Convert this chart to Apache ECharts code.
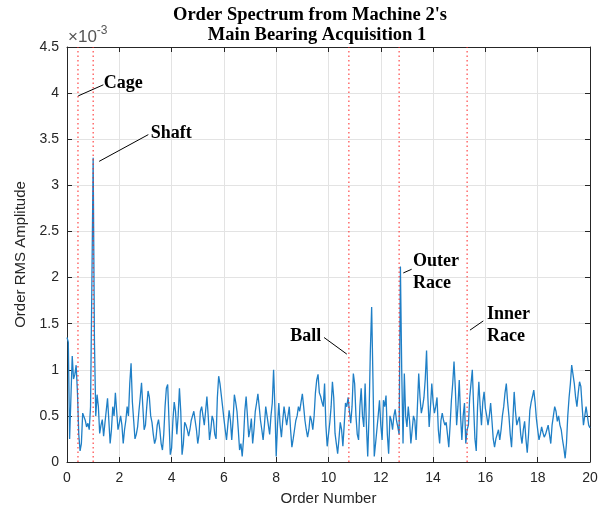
<!DOCTYPE html>
<html>
<head>
<meta charset="utf-8">
<script src="https://cdn.jsdelivr.net/npm/echarts@6/dist/echarts.min.js"></script>
<style>
html,body{margin:0;padding:0;background:#fff;}
#chart{width:605px;height:514px;}
</style>
</head>
<body>
<div id="chart"></div>
<script>
// Order RMS amplitude (units of 1e-3), sampled every 0.05 order from 0 to 20
const orderStep = 0.05;
const amplitude = [
1.35,1.3,0.25,0.7,1.15,0.9,0.95,1.05,0.75,0.3,0.12,0.2,0.53,0.55,0.45,0.38,0.42,0.35,0.6,1.9,
3.3,1.3,0.5,0.73,0.6,0.31,0.4,0.46,0.28,0.42,0.4,0.69,0.45,0.2,0.35,0.6,0.5,0.75,0.55,0.35,
0.42,0.5,0.4,0.2,0.35,0.45,0.6,0.5,0.85,1.07,0.65,0.45,0.25,0.3,0.38,0.55,0.7,0.86,0.6,0.35,
0.4,0.6,0.77,0.7,0.5,0.43,0.3,0.2,0.25,0.4,0.46,0.35,0.2,0.13,0.3,0.6,0.8,0.84,0.45,0.08,
0.15,0.45,0.65,0.55,0.3,0.5,0.8,0.55,0.08,0.2,0.43,0.4,0.35,0.28,0.35,0.45,0.5,0.55,0.56,0.35,
0.2,0.3,0.55,0.6,0.5,0.4,0.55,0.71,0.5,0.24,0.35,0.5,0.45,0.3,0.25,0.7,0.93,0.85,0.85,0.6,
0.47,0.35,0.24,0.4,0.56,0.45,0.24,0.45,0.73,0.65,0.55,0.35,0.13,0.2,0.06,0.25,0.55,0.71,0.5,0.27,
0.35,0.47,0.2,0.35,0.55,0.64,0.74,0.6,0.45,0.35,0.24,0.4,0.6,0.5,0.4,0.3,0.5,0.64,1.0,0.6,
0.06,0.4,0.64,0.4,0.27,0.45,0.6,0.5,0.4,0.5,0.6,0.35,0.16,0.25,0.35,0.45,0.5,0.6,0.55,0.65,
0.74,0.6,0.45,0.35,0.27,0.35,0.5,0.45,0.35,0.5,0.75,0.89,0.95,0.75,0.71,0.65,0.6,0.85,0.4,0.17,
0.3,0.43,0.6,0.87,0.7,0.31,0.2,0.09,0.25,0.43,0.35,0.17,0.4,0.64,0.6,0.7,0.55,0.42,0.6,0.96,
0.85,0.5,0.3,0.24,0.6,0.8,0.5,0.38,0.85,0.4,0.06,0.5,1.2,1.68,0.9,0.06,0.2,0.35,0.5,0.67,
0.4,0.24,0.67,0.6,0.72,0.3,0.09,0.5,0.45,0.35,0.5,0.57,0.45,0.38,0.3,2.12,1.0,0.2,0.96,0.5,
0.38,0.6,0.45,0.2,0.35,0.5,0.45,0.24,0.6,0.96,0.7,0.53,0.6,0.7,0.9,1.21,0.7,0.38,0.6,0.85,
0.65,0.53,0.6,0.7,0.35,0.2,0.45,0.53,0.45,0.4,0.43,0.3,0.16,0.4,0.67,0.85,1.09,0.8,0.4,0.6,
0.89,0.5,0.24,0.5,0.64,0.2,0.35,0.4,0.7,0.85,1.0,0.6,0.25,0.12,0.6,0.87,0.6,0.4,0.65,0.76,
0.58,0.5,0.4,0.5,0.64,0.45,0.25,0.16,0.25,0.27,0.35,0.24,0.35,0.5,0.6,0.75,0.85,0.65,0.5,0.3,
0.16,0.45,0.76,0.55,0.4,0.45,0.49,0.3,0.2,0.35,0.44,0.25,0.1,0.3,0.56,0.65,0.71,0.78,0.65,0.47,
0.35,0.24,0.3,0.38,0.32,0.27,0.3,0.35,0.4,0.3,0.2,0.4,0.5,0.6,0.55,0.44,0.5,0.4,0.35,0.24,
0.15,0.04,0.2,0.5,0.7,0.85,1.05,0.95,0.85,0.7,0.6,0.75,0.87,0.82,0.6,0.4,0.5,0.6,0.5,0.4,
0.37
];
const orders = amplitude.map((_, i) => +(i * orderStep).toFixed(2));

// Bearing fault / shaft orders (red dotted lines)
const faultNames = ['Cage', 'Shaft', 'Ball', 'Outer Race', 'Inner Race'];
const faultOrders = [0.42, 1.0, 10.78, 12.7, 15.3];

// Annotation text positions and leader lines (data coords: order, amplitude e-3)
const annoText = ['Cage', 'Shaft', 'Ball', 'Outer\nRace', 'Inner\nRace'];
const annoTextPos = [[1.41, 4.11], [3.2, 3.56], [9.72, 1.36], [13.23, 2.06], [16.06, 1.48]];
const annoAlign = ['left', 'left', 'right', 'left', 'left'];
const annoLineFrom = [[0.43, 3.97], [1.23, 3.26], [10.7, 1.17], [12.86, 2.05], [15.41, 1.43]];
const annoLineTo = [[1.39, 4.09], [3.11, 3.55], [9.83, 1.35], [13.18, 2.09], [15.92, 1.53]];

const titleLines = ["Order Spectrum from Machine 2's", 'Main Bearing Acquisition 1'];
const xTicks = [0, 20, 2];
const yTicks = [0, 4.5, 0.5];

const chart = echarts.init(document.getElementById('chart'), null, {renderer: 'canvas'});
const axisColor = '#262626';
const gridLine = {show: true, lineStyle: {color: '#e3e3e3', width: 1}};

const faultSeries = faultOrders.map((v, i) => ({
  type: 'line', name: faultNames[i],
  data: [[v, yTicks[0]], [v, yTicks[1]]],
  showSymbol: false, symbol: 'none', silent: true,
  lineStyle: {color: '#ff2020', type: [1.5, 3], width: 1},
  z: 4
}));

const option = {
  backgroundColor: '#ffffff',
  animation: false,
  grid: {left: 67, right: 15, top: 47, bottom: 52, containLabel: false},
  xAxis: [{
    type: 'value', min: xTicks[0], max: xTicks[1], interval: xTicks[2],
    name: 'Order Number', nameLocation: 'middle', nameGap: 29,
    nameTextStyle: {fontFamily: 'Liberation Sans', fontSize: 15, color: axisColor},
    axisLine: {show: true, onZero: false, lineStyle: {color: axisColor, width: 1}},
    axisTick: {show: true, inside: true, length: 5, lineStyle: {color: axisColor}},
    axisLabel: {fontFamily: 'Liberation Sans', fontSize: 14, color: axisColor, margin: 9},
    splitLine: gridLine
  }, {
    type: 'value', position: 'top', min: xTicks[0], max: xTicks[1], interval: xTicks[2],
    axisLine: {show: true, onZero: false, lineStyle: {color: axisColor, width: 1}},
    axisTick: {show: true, inside: true, length: 5, lineStyle: {color: axisColor}},
    axisLabel: {show: false}, splitLine: {show: false}
  }],
  yAxis: [{
    type: 'value', min: yTicks[0], max: yTicks[1], interval: yTicks[2],
    name: 'Order RMS Amplitude', nameLocation: 'middle', nameGap: 30,
    nameTextStyle: {fontFamily: 'Liberation Sans', fontSize: 15, color: axisColor},
    axisLine: {show: true, onZero: false, lineStyle: {color: axisColor, width: 1}},
    axisTick: {show: true, inside: true, length: 5, lineStyle: {color: axisColor}},
    axisLabel: {fontFamily: 'Liberation Sans', fontSize: 14, color: axisColor, margin: 8},
    splitLine: gridLine
  }, {
    type: 'value', position: 'right', min: yTicks[0], max: yTicks[1], interval: yTicks[2],
    axisLine: {show: true, onZero: false, lineStyle: {color: axisColor, width: 1}},
    axisTick: {show: true, inside: true, length: 5, lineStyle: {color: axisColor}},
    axisLabel: {show: false}, splitLine: {show: false}
  }],
  series: [{
    type: 'line', name: 'Order RMS',
    data: orders.map((x, i) => [x, amplitude[i]]),
    showSymbol: false, symbol: 'none',
    lineStyle: {color: '#1f7fc6', width: 1.3},
    z: 3
  }].concat(faultSeries)
};
chart.setOption(option);

function addOverlays() {
  const g = [];
  g.push({type: 'text', x: 310, y: 15, z: 11,
          style: {text: titleLines[0], fontFamily: 'Liberation Serif', fontWeight: 'bold', fontSize: 18.5,
                  fill: '#000', align: 'center', verticalAlign: 'middle'}});
  g.push({type: 'text', x: 317, y: 35, z: 11,
          style: {text: titleLines[1], fontFamily: 'Liberation Serif', fontWeight: 'bold', fontSize: 18.5,
                  fill: '#000', align: 'center', verticalAlign: 'middle'}});
  for (let i = 0; i < annoText.length; i++) {
    const p1 = chart.convertToPixel({gridIndex: 0}, annoLineFrom[i]);
    const p2 = chart.convertToPixel({gridIndex: 0}, annoLineTo[i]);
    g.push({type: 'line', shape: {x1: p1[0], y1: p1[1], x2: p2[0], y2: p2[1]},
            style: {stroke: '#000', lineWidth: 1}, z: 10});
    const pt = chart.convertToPixel({gridIndex: 0}, annoTextPos[i]);
    g.push({type: 'text', x: pt[0], y: pt[1], z: 11,
            style: {text: annoText[i], fontFamily: 'Liberation Serif', fontWeight: 'bold',
                    fontSize: 18, lineHeight: 22, fill: '#000', align: annoAlign[i], verticalAlign: 'middle'}});
  }
  const top = chart.convertToPixel({gridIndex: 0}, [0, yTicks[1]]);
  g.push({type: 'text', x: top[0] + 1, y: top[1] - 1, z: 11,
          style: {text: '{a|×10}{b|-3}', verticalAlign: 'bottom', align: 'left',
                  rich: {a: {fontFamily: 'Liberation Sans', fontSize: 17, fill: '#555', verticalAlign: 'bottom'},
                         b: {fontFamily: 'Liberation Sans', fontSize: 12, fill: '#555', verticalAlign: 'top', padding: [0, 0, 9, 0]}}}});
  chart.setOption({graphic: g});
}
addOverlays();
</script>
</body>
</html>
